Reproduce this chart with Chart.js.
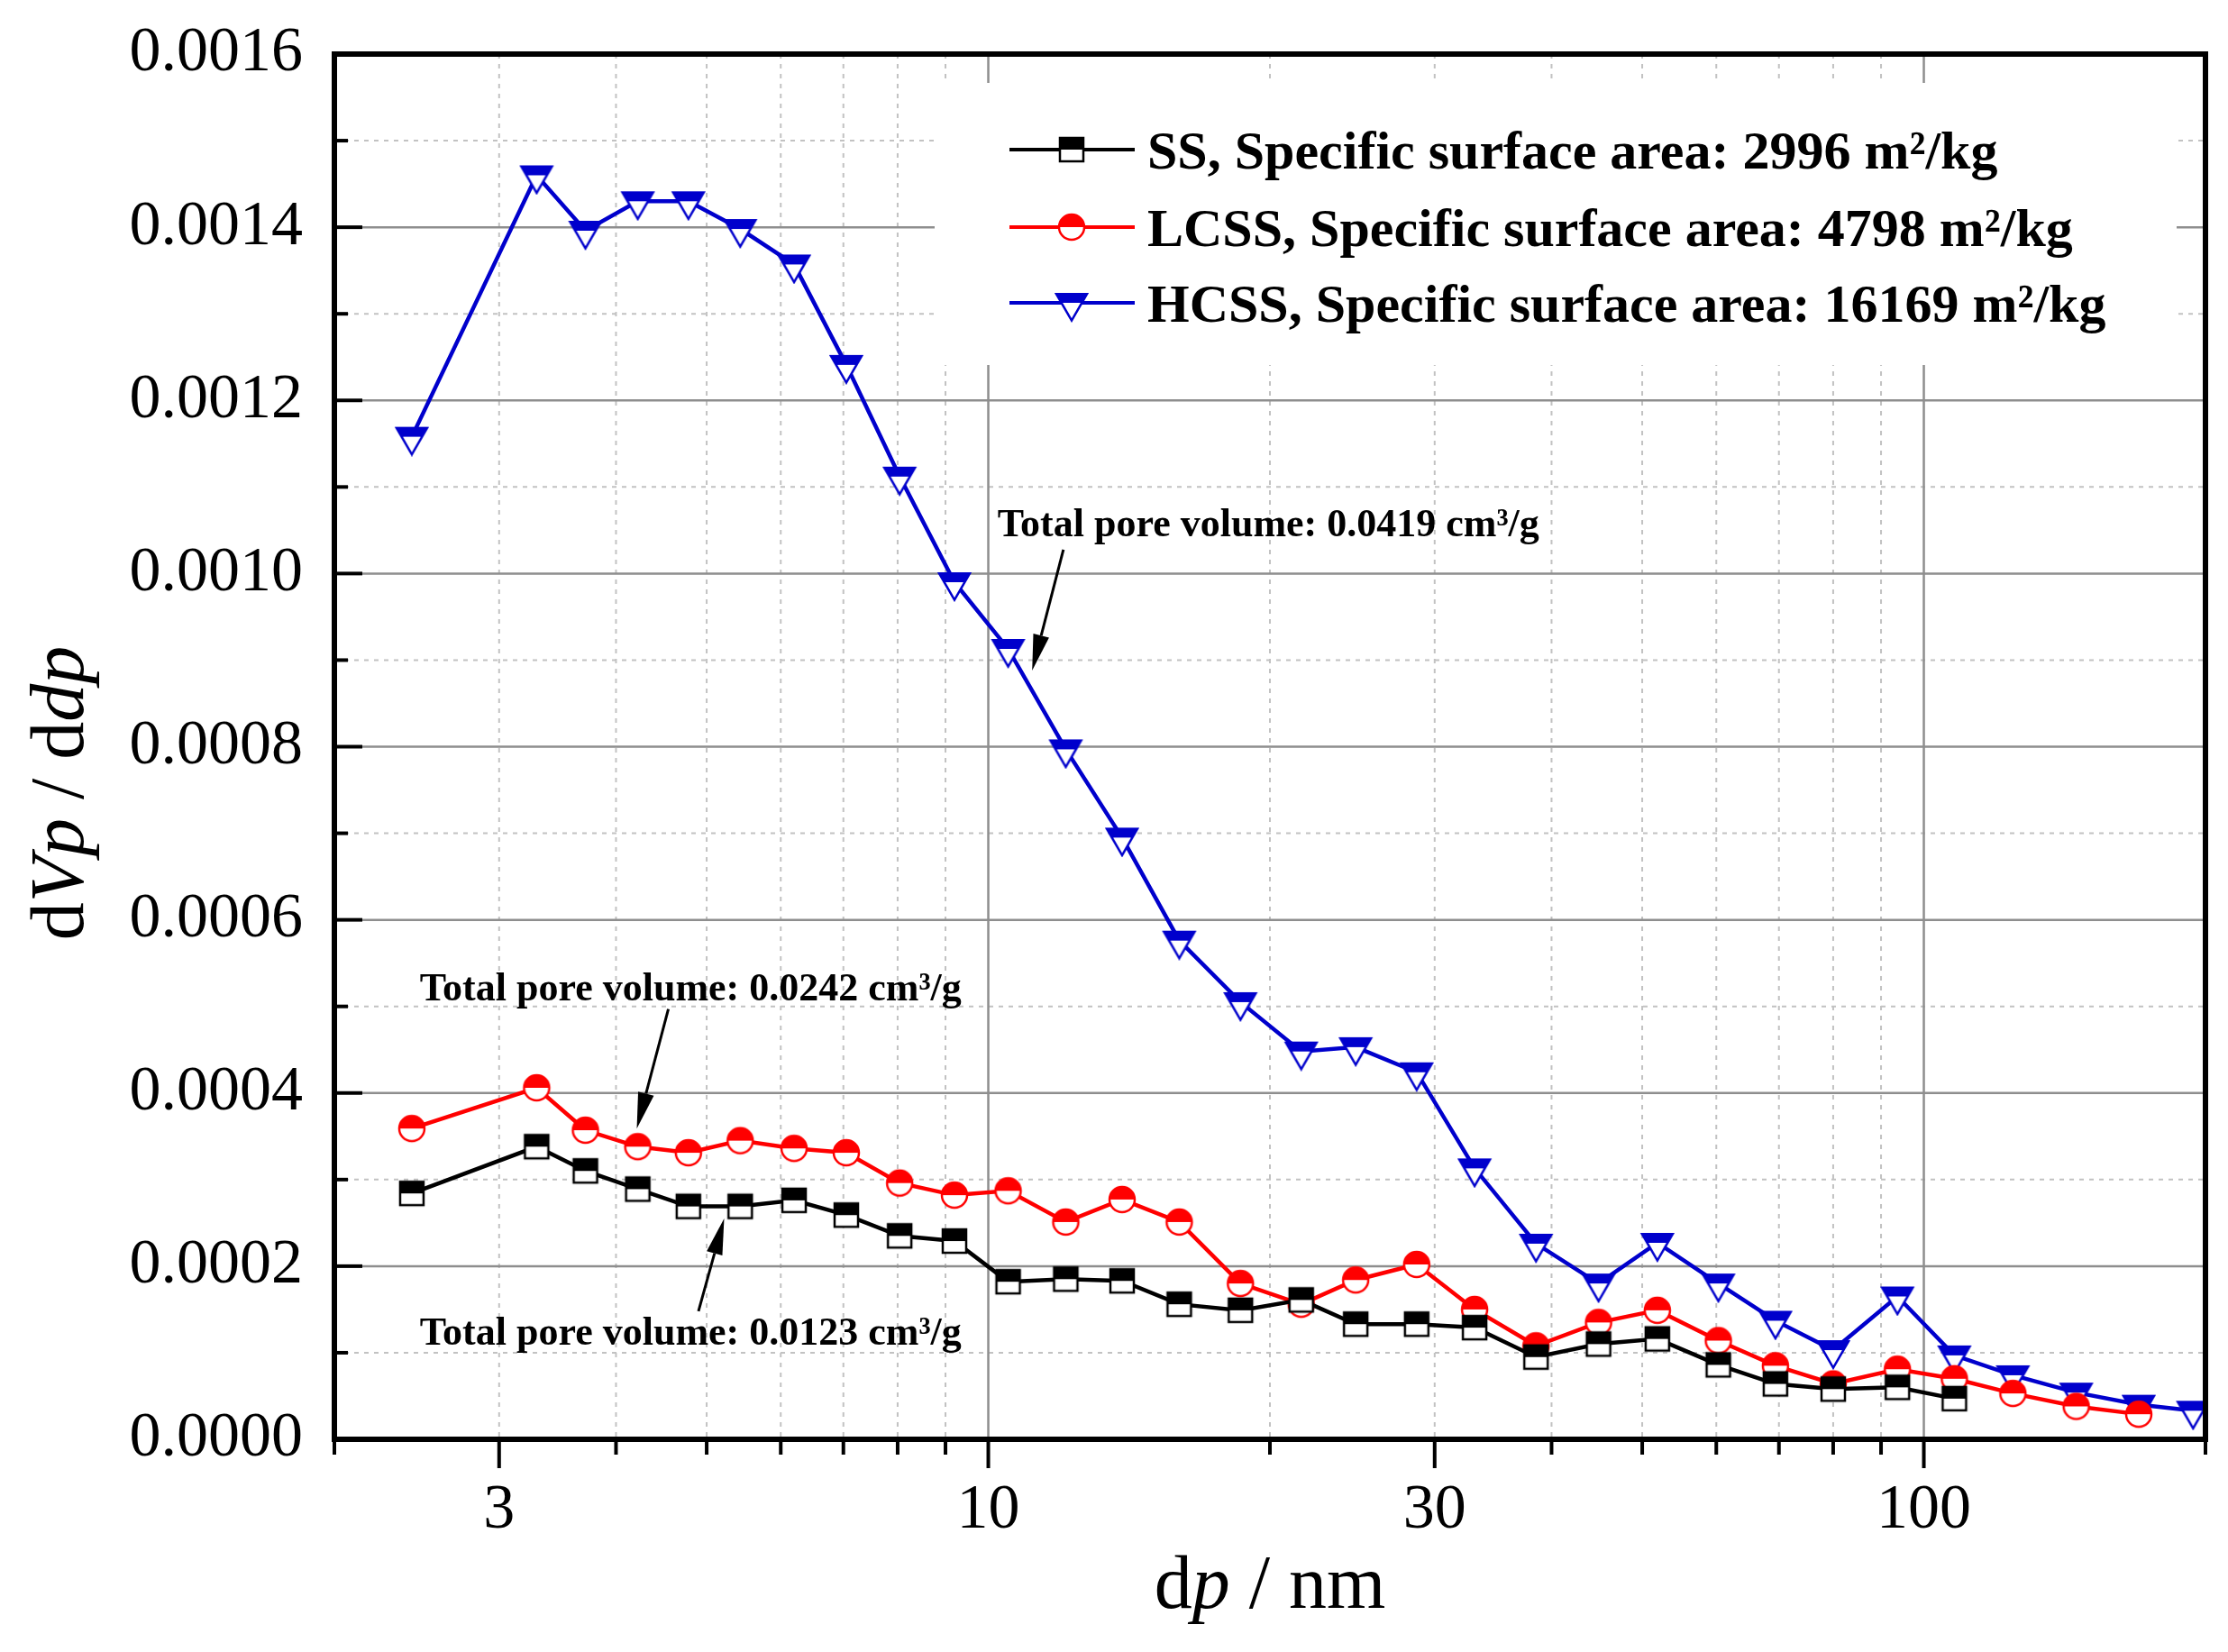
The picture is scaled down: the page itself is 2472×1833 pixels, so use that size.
<!DOCTYPE html>
<html>
<head>
<meta charset="utf-8">
<title>Pore size distribution</title>
<script src="https://cdn.jsdelivr.net/npm/chart.js@4.4.1/dist/chart.umd.min.js"></script>
<style>
    html, body { margin: 0; padding: 0; background: #fff; overflow: hidden; }
    #wrap { width: 2472px; height: 1833px; }
</style>
</head>
<body>
<div id="wrap"><canvas id="poreChart"></canvas></div>
<script>
// Pore diameter (nm), shared by all three series
const poreSize = [2.42, 3.29, 3.71, 4.22, 4.78, 5.43, 6.20, 7.05, 8.04, 9.20,
    10.5, 12.1, 13.9, 16.0, 18.6, 21.6, 24.7, 28.7, 33.1, 38.5,
    44.9, 51.9, 60.3, 69.4, 80.0, 93.7, 107.8, 124.5, 145.5, 169.7, 194];

// dVp / d(dp)
const ssValues = [0.000284, 0.000338, 0.000310, 0.000289, 0.000269, 0.000269, 0.000276, 0.000259, 0.000235, 0.000229,
    0.000182, 0.000185, 0.000183, 0.000156, 0.000149, 0.000161, 0.000133, 0.000133, 0.000129, 0.000095,
    0.000110, 0.000116, 0.000086, 0.000064, 0.000058, 0.000060, 0.000047];
const lcssValues = [0.000359, 0.000406, 0.000357, 0.000338, 0.000331, 0.000345, 0.000336, 0.000331, 0.000296, 0.000282,
    0.000287, 0.000251, 0.000277, 0.000251, 0.000180, 0.000156, 0.000184, 0.000202, 0.000150, 0.000108,
    0.000135, 0.000149, 0.000114, 0.000085, 0.000064, 0.000081, 0.000070, 0.000053, 0.000038, 0.000029];
const hcssValues = [0.001158, 0.001460, 0.001396, 0.001430, 0.001430, 0.001398, 0.001357, 0.001241, 0.001112, 0.000990,
    0.000913, 0.000797, 0.000695, 0.000576, 0.000505, 0.000448, 0.000453, 0.000424, 0.000313, 0.000226,
    0.000180, 0.000227, 0.000180, 0.000137, 0.000103, 0.000165, 0.000097, 0.000074, 0.000054, 0.000040, 0.000033];

const seriesLabels = [
    'SS, Specific surface area: 2996 m²/kg',
    'LCSS, Specific surface area: 4798 m²/kg',
    'HCSS, Specific surface area: 16169 m²/kg'
];

// Axis ticks
const xTickValues = [3, 10, 30, 100];
const xMinorTicks = [2, 4, 5, 6, 7, 8, 9, 20, 40, 50, 60, 70, 80, 90, 200];
const xGridMajor = [10, 100];
const xGridMinor = [3, 4, 5, 6, 7, 8, 9, 20, 30, 40, 50, 60, 70, 80, 90];
const yMax = 0.0016;
const yStep = 0.0002;
const yMinorStep = 0.0001;

// Annotations: text anchor, arrow tail, arrow head (data coordinates)
const noteTexts = [
    'Total pore volume: 0.0419 cm³/g',
    'Total pore volume: 0.0242 cm³/g',
    'Total pore volume: 0.0123 cm³/g'
];
const noteAnchors = [[10.23, 0.0010435], [2.468, 0.000507], [2.468, 0.0001093]];
const arrowTails = [[12.03, 0.0010275], [4.55, 0.000497], [4.90, 0.000148]];
const arrowHeads = [[11.14, 0.000888], [4.21, 0.000359], [5.22, 0.000255]];

const SERIF = "'Liberation Serif', 'Times New Roman', serif";

// Half-filled ("half up") markers like Origin draws them
function makeMarker(shape, color) {
    const s = 44, m = s / 2;
    const c = document.createElement('canvas');
    c.width = s; c.height = s;
    const g = c.getContext('2d');
    const path = () => {
        g.beginPath();
        if (shape === 'square') {
            g.rect(m - 13, m - 13, 26, 26);
        } else if (shape === 'circle') {
            g.arc(m, m, 14, 0, Math.PI * 2);
        } else {
            g.moveTo(m - 17, m - 9.8);
            g.lineTo(m + 17, m - 9.8);
            g.lineTo(m, m + 19.6);
            g.closePath();
        }
    };
    path(); g.fillStyle = '#fff'; g.fill();
    g.save(); path(); g.clip();
    g.fillStyle = color; g.fillRect(0, 0, s, m);
    g.restore();
    path(); g.lineWidth = 2.5; g.strokeStyle = color; g.stroke();
    return c;
}

const colors = ['#000000', '#ff0000', '#0000cc'];
const markers = [makeMarker('square', colors[0]), makeMarker('circle', colors[1]), makeMarker('triangle', colors[2])];
const seriesValues = [ssValues, lcssValues, hcssValues];

function line(ctx, x1, y1, x2, y2) {
    ctx.beginPath(); ctx.moveTo(x1, y1); ctx.lineTo(x2, y2); ctx.stroke();
}

function drawRich(ctx, parts, size, cx, baseY) {
    const fontOf = it => (it ? 'italic ' : '') + size + 'px ' + SERIF;
    let w = 0;
    parts.forEach(p => { ctx.font = fontOf(p[1]); w += ctx.measureText(p[0]).width; });
    let xx = cx - w / 2;
    ctx.textAlign = 'left';
    ctx.textBaseline = 'alphabetic';
    parts.forEach(p => {
        ctx.font = fontOf(p[1]);
        ctx.fillText(p[0], xx, baseY);
        xx += ctx.measureText(p[0]).width;
    });
}

function drawArrow(ctx, x1, y1, x2, y2) {
    const ang = Math.atan2(y2 - y1, x2 - x1);
    const hl = 40, hw = 9;
    const bx = x2 - hl * Math.cos(ang), by = y2 - hl * Math.sin(ang);
    ctx.lineWidth = 3;
    line(ctx, x1, y1, bx, by);
    ctx.beginPath();
    ctx.moveTo(x2, y2);
    ctx.lineTo(bx + hw * Math.sin(ang), by - hw * Math.cos(ang));
    ctx.lineTo(bx - hw * Math.sin(ang), by + hw * Math.cos(ang));
    ctx.closePath();
    ctx.fill();
}

// the labels must not push the plot area around
function noScalePadding(scale) {
    scale.paddingTop = 0;
    scale.paddingBottom = 0;
    scale.paddingLeft = 0;
    scale.paddingRight = 0;
}

const decor = {
    id: 'decor',
    beforeDatasetsDraw(chart) {
        const { ctx, chartArea: a, scales: { x, y } } = chart;
        ctx.save();
        // minor grid, dotted
        ctx.lineWidth = 2;
        ctx.strokeStyle = '#c2c2c2';
        ctx.setLineDash([5, 6]);
        for (let i = 1; i < 16; i += 2) {
            const py = y.getPixelForValue(i * yMinorStep);
            line(ctx, a.left, py, a.right, py);
        }
        xGridMinor.forEach(v => {
            const px = x.getPixelForValue(v);
            line(ctx, px, a.top, px, a.bottom);
        });
        // major grid, solid
        ctx.setLineDash([]);
        ctx.lineWidth = 2.5;
        ctx.strokeStyle = '#8e8e8e';
        for (let i = 1; i < 8; i++) {
            const py = y.getPixelForValue(i * yStep);
            line(ctx, a.left, py, a.right, py);
        }
        xGridMajor.forEach(v => {
            const px = x.getPixelForValue(v);
            line(ctx, px, a.top, px, a.bottom);
        });
        // legend background hides the grid
        ctx.fillStyle = '#fff';
        ctx.fillRect(a.left + 666, a.top + 32, a.right - a.left - 698, 313);
        ctx.restore();
    },
    afterDraw(chart) {
        const { ctx, chartArea: a, scales: { x, y } } = chart;
        ctx.save();
        ctx.strokeStyle = '#000';
        ctx.fillStyle = '#000';

        // y ticks (inward)
        ctx.lineWidth = 4;
        for (let i = 0; i <= 16; i++) {
            const py = y.getPixelForValue(i * yMinorStep);
            line(ctx, a.left, py, a.left + (i % 2 === 0 ? 31 : 15), py);
        }
        // x ticks (outward)
        xTickValues.forEach(v => {
            const px = x.getPixelForValue(v);
            line(ctx, px, a.bottom, px, a.bottom + 32);
        });
        xMinorTicks.forEach(v => {
            const px = x.getPixelForValue(v);
            line(ctx, px, a.bottom, px, a.bottom + 17);
        });

        // frame
        ctx.lineWidth = 6;
        ctx.strokeRect(a.left, a.top, a.right - a.left, a.bottom - a.top);

        // legend
        const rows = [106, 192, 276];
        chart.data.datasets.forEach((ds, i) => {
            const ry = a.top + rows[i];
            ctx.strokeStyle = ds.borderColor;
            ctx.lineWidth = 4;
            line(ctx, a.left + 749, ry, a.left + 888, ry);
            ctx.drawImage(markers[i], a.left + 818 - 22, ry - 22);
            ctx.fillStyle = '#000';
            ctx.font = 'bold 60px ' + SERIF;
            ctx.textAlign = 'left';
            ctx.textBaseline = 'alphabetic';
            ctx.fillText(ds.label, a.left + 902, ry + 21);
        });

        // annotations with arrows
        ctx.strokeStyle = '#000';
        ctx.fillStyle = '#000';
        ctx.font = 'bold 44px ' + SERIF;
        ctx.textAlign = 'left';
        ctx.textBaseline = 'alphabetic';
        noteTexts.forEach((t, i) => {
            ctx.fillText(t, x.getPixelForValue(noteAnchors[i][0]), y.getPixelForValue(noteAnchors[i][1]));
            drawArrow(ctx,
                x.getPixelForValue(arrowTails[i][0]), y.getPixelForValue(arrowTails[i][1]),
                x.getPixelForValue(arrowHeads[i][0]), y.getPixelForValue(arrowHeads[i][1]));
        });

        // axis titles
        drawRich(ctx, [['d', false], ['p', true], [' / nm', false]], 84, (a.left + a.right) / 2, 1784);
        ctx.translate(92, 880);
        ctx.rotate(-Math.PI / 2);
        drawRich(ctx, [['d', false], ['Vp', true], [' / d', false], ['dp', true]], 84, 0, 0);
        ctx.restore();
    }
};

Chart.defaults.font.family = SERIF;
Chart.defaults.color = '#000';

new Chart(document.getElementById('poreChart').getContext('2d'), {
    type: 'line',
    data: {
        datasets: seriesValues.map((vals, i) => ({
            label: seriesLabels[i],
            data: vals.map((v, k) => ({ x: poreSize[k], y: v })),
            borderColor: colors[i],
            backgroundColor: colors[i],
            borderWidth: 4.5,
            pointStyle: markers[i],
            pointRadius: 13,
            tension: 0,
            fill: false
        }))
    },
    options: {
        responsive: true,
        maintainAspectRatio: false,
        devicePixelRatio: 1,
        animation: false,
        layout: { padding: { top: 60, right: 25, bottom: 0, left: 0 } },
        plugins: {
            legend: { display: false },
            tooltip: { enabled: false }
        },
        scales: {
            x: {
                type: 'logarithmic',
                min: 2,
                max: 200,
                grid: { display: false, drawTicks: false },
                border: { display: false },
                afterBuildTicks: scale => { scale.ticks = xTickValues.map(v => ({ value: v })); },
                afterFit: scale => { scale.height = 236; noScalePadding(scale); },
                ticks: {
                    font: { size: 70 },
                    color: '#000',
                    padding: 38,
                    maxRotation: 0,
                    autoSkip: false,
                    callback: v => String(v)
                }
            },
            y: {
                min: 0,
                max: yMax,
                grid: { display: false, drawTicks: false },
                border: { display: false },
                afterFit: scale => { scale.width = 371; noScalePadding(scale); },
                ticks: {
                    stepSize: yStep,
                    font: { size: 70 },
                    color: '#000',
                    padding: 35,
                    callback: v => v.toFixed(4)
                }
            }
        }
    },
    plugins: [decor]
});
</script>
</body>
</html>
